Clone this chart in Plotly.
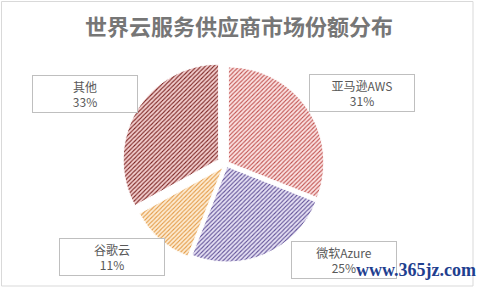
import plotly.graph_objects as go

labels = ["亚马逊AWS", "微软Azure", "谷歌云", "其他"]
shares = [31, 25, 11, 33]
pulls = [0.03, 0.03, 0.05, 0.09]
stripe_colors = ["#c0504d", "#5f4f96", "#e39a45", "#7a2220"]
bg_colors = ["#fbe3e3", "#e6e1f4", "#fdecd4", "#f3cfcf"]

# label box centres (paper px) for each slice
box_px = [(362, 93), (344, 260), (112, 257), (85, 94)]

W, H = 481, 289

fig = go.Figure()
fig.add_trace(go.Pie(
    labels=labels,
    values=shares,
    sort=False,
    direction="clockwise",
    rotation=0,
    pull=pulls,
    textinfo="none",
    hoverinfo="label+percent",
    marker=dict(
        colors=bg_colors,
        line=dict(color="white", width=1),
        pattern=dict(shape="/", fgcolor=stripe_colors, bgcolor=bg_colors,
                     size=3, solidity=0.35),
    ),
    domain=dict(x=[(226 - 104) / W, (226 + 104) / W],
                y=[(H - 164 - 104) / H, (H - 164 + 104) / H]),
    showlegend=False,
))

annotations = [
    dict(text="<b>世界云服务供应商市场份额分布</b>", x=239 / W, y=1 - 25 / H,
         xref="paper", yref="paper", showarrow=False,
         font=dict(family="Noto Sans CJK SC", size=22, color="#767676"),
         xanchor="center", yanchor="middle"),
]
for lab, val, (bx, by) in zip(labels, shares, box_px):
    annotations.append(dict(
        text=f"{lab}<br>{val}%", x=bx / W, y=1 - by / H,
        xref="paper", yref="paper", showarrow=False,
        xanchor="center", yanchor="middle",
        width=104, height=36, borderpad=0,
        bordercolor="#bfbfbf", borderwidth=1, bgcolor="white",
        font=dict(family="Noto Sans CJK SC", size=12, color="#595959"),
    ))
annotations.append(dict(
    text="<b>www.365jz.com</b>", x=416 / W, y=1 - 270 / H,
    xref="paper", yref="paper", showarrow=False,
    xanchor="center", yanchor="middle",
    font=dict(family="Liberation Serif", size=18, color="#1f3f8f"),
))

fig.update_layout(
    width=W, height=H,
    margin=dict(l=0, r=0, t=0, b=0),
    paper_bgcolor="white",
    annotations=annotations,
    shapes=[dict(type="rect", xref="paper", yref="paper",
                 x0=1.5 / W, x1=473 / W, y0=1 - 286 / H, y1=1 - 1.5 / H,
                 line=dict(color="#d9d9d9", width=1), layer="below")],
)

fig.write_html("out.html")
